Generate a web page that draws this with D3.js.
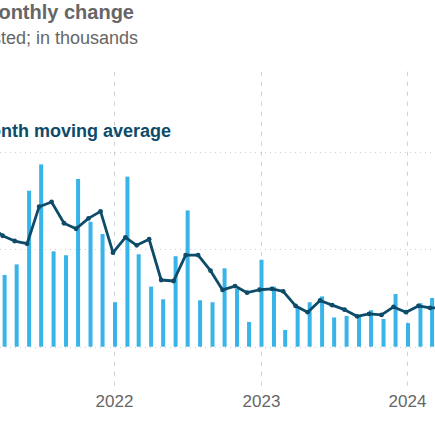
<!DOCTYPE html>
<html>
<head>
<meta charset="utf-8">
<script src="https://cdn.jsdelivr.net/npm/d3@7"></script>
<style>
  html, body { margin: 0; padding: 0; background: #fff; overflow: hidden; }
  svg { display: block; font-family: "Liberation Sans", Arial, Helvetica, sans-serif; }
</style>
</head>
<body>
<svg id="chart" width="435" height="435"></svg>
<script>
// Months from March 2021 to April 2024 (first and last fall just outside the visible crop)
const months = [
  "2021-03","2021-04","2021-05","2021-06","2021-07","2021-08","2021-09","2021-10","2021-11","2021-12",
  "2022-01","2022-02","2022-03","2022-04","2022-05","2022-06","2022-07","2022-08","2022-09","2022-10","2022-11","2022-12",
  "2023-01","2023-02","2023-03","2023-04","2023-05","2023-06","2023-07","2023-08","2023-09","2023-10","2023-11","2023-12",
  "2024-01","2024-02","2024-03","2024-04"
];
// Monthly change, thousands
const monthlyChange = [
  700, 368, 422, 800, 935, 489, 469, 860, 641, 578,
  228, 872, 474, 308, 243, 464, 699, 238, 228, 402, 297, 127,
  446, 308, 86, 206, 228, 258, 150, 158, 155, 187, 142, 270,
  121, 223, 250, 130
];
// 3-month moving average, thousands
const movingAverage = [
  620, 569, 542, 528, 718, 742, 633, 605, 658, 694,
  482, 561, 520, 551, 342, 337, 470, 470, 390, 291, 311, 277,
  292, 297, 284, 209, 177, 237, 213, 190, 156, 168, 163, 204,
  177, 209, 199, 200
];
const yTicks = [0, 500, 1000];
const xTickYears = ["2022", "2023", "2024"];

const titleText = "Nonfarm payrolls: monthly change";
const subtitleText = "Seasonally adjusted; in thousands";
const lineLabel = "3-month moving average";

const barColor = "#38b4e9";
const lineColor = "#0d4b69";
const gridColor = "#cfcfcf";
const textGray = "#666666";

const svg = d3.select("#chart");
const parse = d3.utcParse("%Y-%m");
const data = months.map((m, i) => ({ date: parse(m), value: monthlyChange[i], avg: movingAverage[i] }));

const x = d3.scaleUtc()
  .domain([parse("2022-01"), parse("2024-01")])
  .range([114, 407]);
const y = d3.scaleLinear()
  .domain([0, 1000])
  .range([346.7, 151.7]);

// horizontal dotted gridlines
svg.append("g").selectAll("line")
  .data(yTicks)
  .join("line")
  .attr("x1", 0).attr("x2", 435)
  .attr("y1", d => Math.round(y(d)) + 0.5)
  .attr("y2", d => Math.round(y(d)) + 0.5)
  .attr("stroke", gridColor)
  .attr("stroke-width", 1)
  .attr("stroke-dasharray", "1,4");

// vertical dashed year lines and labels
const yearG = svg.append("g").selectAll("g")
  .data(xTickYears)
  .join("g")
  .attr("transform", d => `translate(${Math.round(x(d3.utcParse("%Y")(d))) + 0.5},0)`);
yearG.append("line")
  .attr("y1", 71.7).attr("y2", 387)
  .attr("stroke", gridColor)
  .attr("stroke-width", 1)
  .attr("stroke-dasharray", "4,6");
yearG.append("text")
  .attr("y", 406.5)
  .attr("text-anchor", "middle")
  .attr("font-size", 17)
  .attr("fill", textGray)
  .text(d => d);

// bars
const barW = 4;
svg.append("g").selectAll("rect")
  .data(data)
  .join("rect")
  .attr("x", d => x(d.date) + 1 - barW / 2)
  .attr("width", barW)
  .attr("y", d => y(d.value))
  .attr("height", d => y(0) - y(d.value))
  .attr("fill", barColor);

// moving average line
const line = d3.line()
  .x(d => x(d.date) - 1)
  .y(d => y(d.avg));
svg.append("path")
  .datum(data)
  .attr("d", line)
  .attr("fill", "none")
  .attr("stroke", lineColor)
  .attr("stroke-width", 2.8)
  .attr("stroke-linejoin", "round");
svg.append("g").selectAll("circle")
  .data(data)
  .join("circle")
  .attr("cx", d => x(d.date) - 1)
  .attr("cy", d => y(d.avg))
  .attr("r", 2.4)
  .attr("fill", lineColor);

// texts (left part cut off by the crop)
svg.append("text")
  .attr("x", 134).attr("y", 19)
  .attr("text-anchor", "end")
  .attr("font-size", 20).attr("font-weight", "bold")
  .attr("fill", textGray)
  .text(titleText);
svg.append("text")
  .attr("x", 138).attr("y", 44.3)
  .attr("text-anchor", "end")
  .attr("font-size", 18)
  .attr("fill", textGray)
  .text(subtitleText);
svg.append("text")
  .attr("x", 171).attr("y", 136.7)
  .attr("text-anchor", "end")
  .attr("font-size", 18).attr("font-weight", "bold")
  .attr("fill", lineColor)
  .text(lineLabel);
</script>
</body>
</html>
